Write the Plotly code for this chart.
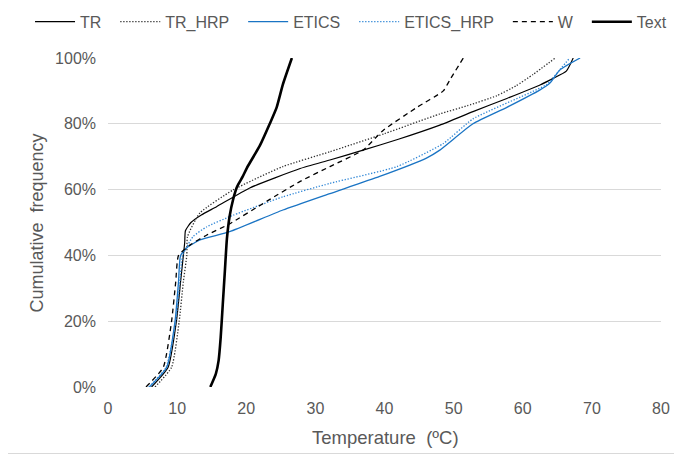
import plotly.graph_objects as go

# Temperature (ºC) vs cumulative frequency (%)
tr_t = [6.3, 8.7, 9.9, 10.5, 10.9, 11.1, 11.2, 12.0, 13.5, 15.7, 20.5, 27.8, 32.1, 36.9, 42.0, 48.0, 52.8, 57.7, 62.5, 64.4, 66.3, 67.3]
tr_p = [0, 6, 20, 32, 40, 44, 47.5, 50.0, 52.3, 54.8, 60.5, 66.4, 69, 72, 75.3, 79.6, 83.7, 87.7, 91.8, 93.8, 96.0, 100]

trh_t = [6.8, 9.2, 10.3, 10.9, 11.4, 11.5, 13.3, 18.1, 25.3, 32.1, 40.0, 48.0, 52.0, 56.2, 59.0, 61.5, 64.7]
trh_p = [0, 6, 20, 32, 40, 45.7, 52.9, 59.9, 67.0, 71.5, 77.0, 83.0, 85.5, 88.5, 91.5, 95.0, 100]

et_t = [6.0, 8.5, 9.7, 10.2, 10.5, 11.5, 13.3, 17.6, 25.3, 32.1, 39.3, 46.0, 48.0, 52.8, 57.7, 62.5, 63.9, 65.4, 68.3]
et_p = [0, 6, 20, 32, 40, 42.5, 44.7, 47.2, 53.8, 58.8, 64.0, 69.5, 72.0, 80.0, 85.0, 90.3, 92.3, 96.4, 100]

eth_t = [5.9, 8.4, 9.8, 10.4, 10.8, 12.3, 14.3, 18.1, 25.3, 32.1, 41.8, 48.5, 52.8, 63.5, 64.9, 66.8]
eth_p = [0, 6, 20, 32, 40, 45.7, 48.7, 52.2, 57.8, 61.9, 67.0, 74.0, 81.5, 92.0, 95.3, 100]

w_t = [5.5, 8.0, 9.2, 9.8, 10.2, 11.9, 14.3, 17.5, 23.0, 27.8, 32.1, 36.9, 39.8, 44.7, 48.5, 49.5, 51.4]
w_p = [0, 6, 20, 32, 40, 43.2, 46.2, 49.5, 56.5, 62.5, 67.0, 72.0, 78.0, 85.0, 90.0, 93.5, 100]

tx_t = [14.8, 15.6, 16.0, 16.3, 16.6, 16.9, 17.2, 17.6, 18.1, 18.7, 19.5, 20.1, 22.0, 23.4, 24.4, 25.3, 26.6]
tx_p = [0, 4, 8, 15, 25, 35, 45, 52, 57, 61, 64, 66.6, 73.5, 80, 85, 92, 100]

x_ticks = [0, 10, 20, 30, 40, 50, 60, 70, 80]
y_ticks = [0, 20, 40, 60, 80, 100]
y_labels = ["0%", "20%", "40%", "60%", "80%", "100%"]

series = [
    ("TR", tr_t, tr_p, dict(color="#000000", width=1.2, dash="solid")),
    ("TR_HRP", trh_t, trh_p, dict(color="#303030", width=1.3, dash="1.3px,1.7px")),
    ("ETICS", et_t, et_p, dict(color="#1a74c4", width=1.3, dash="solid")),
    ("ETICS_HRP", eth_t, eth_p, dict(color="#2f86d6", width=1.3, dash="1.3px,1.7px")),
    ("W", w_t, w_p, dict(color="#000000", width=1.3, dash="5px,4px")),
    ("Text", tx_t, tx_p, dict(color="#000000", width=2.6, dash="solid")),
]

fig = go.Figure()
for name, xs, ys, ln in series:
    fig.add_trace(go.Scatter(x=xs, y=ys, mode="lines", name=name + "\u00a0\u00a0",
                             line=dict(shape="spline", smoothing=0.5, **ln)))

# page has an 8px body margin, so the figure is sized/offset to compensate
font_fam = "Liberation Sans, Arial, sans-serif"
fig.update_layout(
    width=674, height=446,
    margin=dict(l=100, r=21, t=50, b=67, autoexpand=False),
    paper_bgcolor="white", plot_bgcolor="white",
    font=dict(family=font_fam, color="#595959", size=16),
    legend=dict(orientation="h", x=-0.141, xanchor="left", y=1.11, yanchor="middle",
                font=dict(size=16, color="#595959"), itemwidth=40, tracegroupgap=0,
                bgcolor="rgba(0,0,0,0)"),
    showlegend=True,
    xaxis=dict(range=[0, 80], tickvals=x_ticks, showgrid=False, zeroline=False,
               showline=False, ticks="", ticklabelstandoff=10, automargin=False,
               tickfont=dict(size=16, color="#595959")),
    yaxis=dict(range=[0, 100], tickvals=y_ticks, ticktext=y_labels, showgrid=True,
               gridcolor="#d9d9d9", gridwidth=1, zeroline=False, showline=False, ticks="",
               ticklabelstandoff=11, automargin=False,
               tickfont=dict(size=16, color="#595959")),
    annotations=[
        dict(text="Temperature\u00a0 (ºC)", xref="paper", yref="paper", x=0.502, y=-0.152,
             xanchor="center", yanchor="middle", showarrow=False,
             font=dict(size=18.5, color="#595959")),
        dict(text="Cumulative\u00a0 frequency", xref="paper", yref="paper", x=-0.1284, y=0.5,
             xanchor="center", yanchor="middle", showarrow=False, textangle=-90,
             font=dict(size=18, color="#595959")),
    ],
    shapes=[
        dict(type="line", xref="paper", yref="paper", x0=1.0371, x1=1.0371, y0=-0.2021, y1=1.2,
             line=dict(color="#d9d9d9", width=1)),
        dict(type="line", xref="paper", yref="paper", x0=-0.2, x1=1.0371, y0=-0.2021, y1=-0.2021,
             line=dict(color="#d9d9d9", width=1)),
    ],
)
fig.write_html("out.html")
